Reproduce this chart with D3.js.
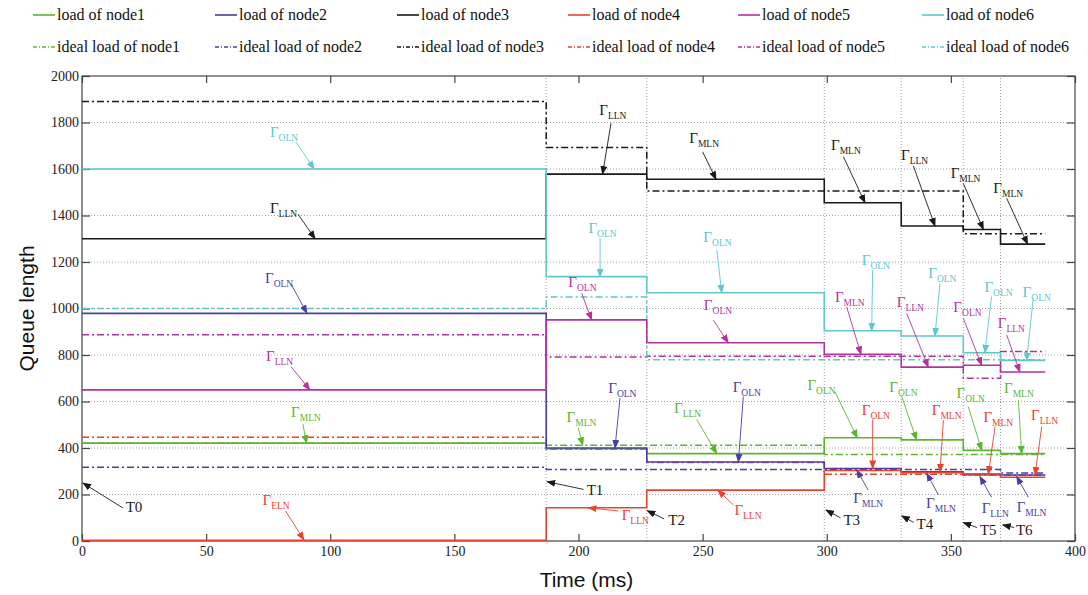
<!DOCTYPE html>
<html>
<head>
<meta charset="utf-8">
<script src="https://cdn.jsdelivr.net/npm/d3@7"></script>
<style>
  body { margin: 0; background: #fff; }
  svg { display: block; }
</style>
</head>
<body>
<div id="chart"></div>
<script>
// time instants where the load is redistributed (T0..T6) and end of run, ms
const switchTimes = [0, 187, 227.5, 299, 330, 355, 370, 388];

// queue length of each node on every interval
const load1 = [421, 397, 376, 444, 435, 390, 376];
const load2 = [979, 400, 340, 312, 298, 288, 284];
const load3 = [1300, 1578, 1556, 1455, 1355, 1340, 1277];
const load4 = [3, 143, 219, 303, 294, 284, 274];
const load5 = [650, 951, 853, 803, 748, 756, 727];
const load6 = [1600, 1137, 1068, 904, 882, 810, 777];

// ideal queue length of each node on every interval
const ideal1 = [420, 412, 412, 372, 372, 372, 372];
const ideal2 = [317, 308, 308, 308, 308, 308, 292];
const ideal3 = [1890, 1693, 1505, 1505, 1505, 1322, 1322];
const ideal4 = [446, 395, 338, 287, 287, 283, 283];
const ideal5 = [887, 791, 795, 795, 795, 700, 815];
const ideal6 = [1000, 1049, 780, 780, 780, 780, 780];

const xTicks = [0, 50, 100, 150, 200, 250, 300, 350, 400];
const yTicks = [0, 200, 400, 600, 800, 1000, 1200, 1400, 1600, 1800, 2000];

// annotations: node, label, subscript, text (t,q), arrow from (t,q), arrow to (t,q)
const annotations = [
    [6, "Γ", "OLN", 75.7, 1739, 86.2, 1717, 93.5, 1600],
    [3, "Γ", "LLN", 75.7, 1411, 87, 1406, 93.9, 1300],
    [2, "Γ", "OLN", 73.7, 1110, 84.2, 1105, 90.6, 980],
    [5, "Γ", "LLN", 74.1, 775, 84.2, 750, 91.8, 650],
    [1, "Γ", "MLN", 84.2, 535, 89, 503, 90.4, 421],
    [4, "Γ", "ELN", 72.7, 155, 82, 129, 89.4, 5],
    [3, "T0", "", 17.6, 125, 16.5, 142, 0.4, 249],

    [3, "Γ", "LLN", 208.4, 1832, 213.1, 1797, 209.7, 1578],
    [3, "Γ", "MLN", 244.6, 1710, 250, 1674, 255.4, 1556],
    [6, "Γ", "OLN", 204, 1326, 208.7, 1302, 208.7, 1137],
    [6, "Γ", "OLN", 250.3, 1287, 255.7, 1252, 257.7, 1068],
    [5, "Γ", "OLN", 195.9, 1094, 201.3, 1065, 205.3, 951],
    [5, "Γ", "OLN", 250.5, 993, 254.3, 950, 260.3, 853],
    [2, "Γ", "OLN", 212, 635, 216.7, 614, 214.7, 400],
    [1, "Γ", "MLN", 195.2, 513, 199.9, 487, 201.7, 412],
    [1, "Γ", "LLN", 238.5, 549, 247.6, 523, 255.7, 376],
    [2, "Γ", "OLN", 262.1, 642, 266.4, 621, 264.4, 340],
    [3, "T1", "", 203.3, 198, 202, 222, 187.4, 255],
    [4, "Γ", "LLN", 217.4, 90, 215.9, 129, 204, 143],
    [3, "T2", "", 236.2, 69, 234.5, 95, 227.7, 130],
    [4, "Γ", "LLN", 262.8, 112, 262.4, 155, 256.1, 219],

    [5, "Γ", "MLN", 303.3, 1029, 308, 1008, 313.8, 803],
    [5, "Γ", "LLN", 328.2, 1008, 332.2, 979, 340.9, 748],
    [6, "Γ", "OLN", 314.1, 1187, 318.5, 1166, 318.1, 904],
    [6, "Γ", "OLN", 340.9, 1130, 345.6, 1108, 343.6, 882],
    [5, "Γ", "OLN", 351, 986, 355, 958, 362.4, 756],
    [6, "Γ", "OLN", 363.5, 1072, 366.4, 1051, 363.7, 810],
    [6, "Γ", "OLN", 378.9, 1051, 383.2, 1044, 380.5, 777],
    [5, "Γ", "LLN", 368.9, 915, 372.5, 886, 377.8, 727],
    [1, "Γ", "OLN", 292.2, 649, 303.3, 642, 312.3, 444],
    [4, "Γ", "OLN", 314.1, 542, 318.5, 523, 318.5, 312],
    [1, "Γ", "OLN", 325.2, 642, 330.2, 621, 336.2, 435],
    [4, "Γ", "MLN", 342.3, 542, 347, 520, 345.6, 298],
    [1, "Γ", "OLN", 352.3, 614, 357, 578, 362.4, 390],
    [4, "Γ", "MLN", 363.1, 513, 367.8, 492, 365.1, 288],
    [1, "Γ", "MLN", 371.4, 635, 377.2, 606, 378.5, 376],
    [4, "Γ", "LLN", 382.3, 520, 386.6, 492, 383.9, 284],
    [2, "Γ", "MLN", 310.7, 162, 316.7, 219, 312.1, 305],
    [2, "Γ", "MLN", 340, 142, 345, 198, 340.3, 291],
    [2, "Γ", "LLN", 362.4, 120, 366.4, 188, 361.7, 277],
    [2, "Γ", "MLN", 376.5, 126, 381.2, 188, 376.5, 277],
    [3, "T3", "", 306.7, 69, 305.5, 100, 299.7, 133],
    [3, "T4", "", 336.2, 52, 335, 80, 330.2, 108],
    [3, "T5", "", 361.7, 26, 360.5, 58, 355, 79],
    [3, "T6", "", 376.2, 26, 375.5, 58, 370.9, 69],
    [3, "Γ", "MLN", 301.7, 1682, 306.7, 1653, 315.4, 1455],
    [3, "Γ", "LLN", 329.9, 1639, 334.9, 1613, 343.6, 1355],
    [3, "Γ", "MLN", 349.9, 1560, 355, 1538, 363.1, 1340],
    [3, "Γ", "MLN", 367.1, 1495, 372.5, 1474, 380.9, 1277]
];

const loads = [load1, load2, load3, load4, load5, load6];
const ideals = [ideal1, ideal2, ideal3, ideal4, ideal5, ideal6];
const colors = ["#5cb531", "#4a3ea6", "#1a1a1a", "#e8432e", "#b3339e", "#5ec8cc"];

const W = 1088, H = 595;
const margin = {top: 76, right: 13, bottom: 54, left: 82};
const serif = '"Liberation Serif", "Times New Roman", serif';

const svg = d3.select("#chart").append("svg")
    .attr("width", W)
    .attr("height", H);

const x = d3.scaleLinear().domain([0, 400]).range([margin.left, W - margin.right]);
const y = d3.scaleLinear().domain([0, 2000]).range([H - margin.bottom, margin.top]);

// arrow heads, one per colour
const defs = svg.append("defs");
colors.forEach((c, i) => {
    defs.append("marker")
        .attr("id", "arrow" + (i + 1))
        .attr("markerUnits", "userSpaceOnUse")
        .attr("markerWidth", 9)
        .attr("markerHeight", 7)
        .attr("refX", 8)
        .attr("refY", 3.5)
        .attr("orient", "auto")
        .append("path")
        .attr("d", "M0,0 L9,3.5 L0,7 Z")
        .attr("fill", c);
});

// grid
svg.append("g")
    .selectAll("line")
    .data(yTicks.slice(1, -1))
    .enter().append("line")
    .attr("x1", x(0)).attr("x2", x(400))
    .attr("y1", d => y(d)).attr("y2", d => y(d))
    .attr("stroke", "#8a8a8a")
    .attr("stroke-width", 0.8)
    .attr("stroke-dasharray", "1,2");

svg.append("g")
    .selectAll("line")
    .data(switchTimes.slice(1, -1))
    .enter().append("line")
    .attr("x1", d => x(d)).attr("x2", d => x(d))
    .attr("y1", y(0)).attr("y2", y(2000))
    .attr("stroke", "#8a8a8a")
    .attr("stroke-width", 0.8)
    .attr("stroke-dasharray", "1,2");

// axes with inward ticks
let bottomAxis = svg.append("g")
    .attr("transform", `translate(0, ${y(0)})`)
    .call(d3.axisBottom(x).tickValues(xTicks).tickSize(-7).tickPadding(5).tickFormat(d3.format("d")));
let topAxis = svg.append("g")
    .attr("transform", `translate(0, ${y(2000)})`)
    .call(d3.axisTop(x).tickValues(xTicks).tickSize(-7).tickFormat(""));
let leftAxis = svg.append("g")
    .attr("transform", `translate(${x(0)}, 0)`)
    .call(d3.axisLeft(y).tickValues(yTicks).tickSize(-8).tickPadding(3).tickFormat(d3.format("d")));
let rightAxis = svg.append("g")
    .attr("transform", `translate(${x(400)}, 0)`)
    .call(d3.axisRight(y).tickValues(yTicks).tickSize(-8).tickFormat(""));

[bottomAxis, topAxis, leftAxis, rightAxis].forEach(a => {
    a.attr("font-family", serif).attr("font-size", 14);
    a.select(".domain").remove();
    a.selectAll(".tick line").attr("stroke", "#444").attr("stroke-width", 1.2);
    a.selectAll(".tick text").attr("fill", "#222");
});

svg.append("rect")
    .attr("x", x(0)).attr("y", y(2000))
    .attr("width", x(400) - x(0))
    .attr("height", y(0) - y(2000))
    .attr("fill", "none")
    .attr("stroke", "#444")
    .attr("stroke-width", 1.2);

// step lines
const stepLine = d3.line()
    .x(d => x(d[0]))
    .y(d => y(d[1]))
    .curve(d3.curveStepAfter);

function steps(values) {
    let pts = values.map((v, i) => [switchTimes[i], v]);
    pts.push([switchTimes[switchTimes.length - 1], values[values.length - 1]]);
    return pts;
}

svg.append("g")
    .selectAll("path")
    .data(ideals)
    .enter().append("path")
    .attr("d", d => stepLine(steps(d)))
    .attr("fill", "none")
    .attr("stroke", (d, i) => colors[i])
    .attr("stroke-width", 1.5)
    .attr("stroke-dasharray", "7,3,2,3");

svg.append("g")
    .selectAll("path")
    .data(loads)
    .enter().append("path")
    .attr("d", d => stepLine(steps(d)))
    .attr("fill", "none")
    .attr("stroke", (d, i) => colors[i])
    .attr("stroke-width", 1.6);

// annotations
let notes = svg.append("g");
annotations.forEach(a => {
    let [node, label, sub, tt, tq, ft, fq, et, eq] = a;
    let c = colors[node - 1];
    notes.append("line")
        .attr("x1", x(ft)).attr("y1", y(fq))
        .attr("x2", x(et)).attr("y2", y(eq))
        .attr("stroke", c)
        .attr("stroke-width", 0.9)
        .attr("marker-end", `url(#arrow${node})`);
    let t = notes.append("text")
        .attr("x", x(tt))
        .attr("y", y(tq))
        .attr("fill", c)
        .attr("font-family", serif)
        .attr("font-size", "15px");
    t.append("tspan").text(label);
    if (sub) {
        t.append("tspan")
            .attr("dy", 4)
            .attr("font-size", "9.5px")
            .text(sub);
    }
});

// legend
const legendX = [33, 215, 397, 568, 738, 922];
const legend = svg.append("g");
loads.forEach((d, i) => {
    [0, 1].forEach(row => {
        let ly = row === 0 ? 15 : 47;
        legend.append("line")
            .attr("x1", legendX[i]).attr("x2", legendX[i] + 22)
            .attr("y1", ly).attr("y2", ly)
            .attr("stroke", colors[i])
            .attr("stroke-width", 1.6)
            .attr("stroke-dasharray", row === 0 ? null : "4,2,1,2");
        legend.append("text")
            .attr("x", legendX[i] + 24)
            .attr("y", ly + 5)
            .attr("font-family", serif)
            .attr("font-size", "16px")
            .attr("fill", "#111")
            .text((row === 0 ? "load of node" : "ideal load of node") + (i + 1));
    });
});

// axis titles
svg.append("text")
    .attr("x", (x(0) + x(400)) / 2 + 8)
    .attr("y", 587)
    .attr("text-anchor", "middle")
    .attr("font-family", '"Liberation Sans", Arial, sans-serif')
    .attr("font-size", "21px")
    .attr("fill", "#111")
    .text("Time (ms)");

svg.append("text")
    .attr("transform", `translate(34, ${(y(0) + y(2000)) / 2}) rotate(-90)`)
    .attr("text-anchor", "middle")
    .attr("font-family", '"Liberation Sans", Arial, sans-serif')
    .attr("font-size", "21px")
    .attr("fill", "#111")
    .text("Queue length");
</script>
</body>
</html>
